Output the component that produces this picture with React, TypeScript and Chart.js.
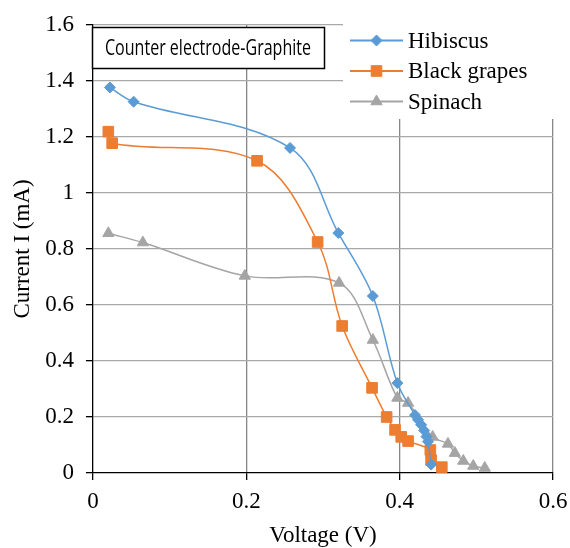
import React, { useEffect, useRef } from "react";
import { Chart, registerables } from "chart.js";

Chart.register(...registerables);

// ---- data ----
const seriesNames = ["Hibiscus", "Black grapes", "Spinach"];
const seriesColors = ["#5B9BD5", "#ED7D31", "#A5A5A5"];

const hibiscusV = [0.022, 0.053, 0.257, 0.32, 0.365, 0.397, 0.42, 0.424, 0.428, 0.432, 0.435, 0.437, 0.441];
const hibiscusI = [1.377, 1.326, 1.161, 0.857, 0.632, 0.321, 0.207, 0.19, 0.172, 0.152, 0.13, 0.112, 0.03];

const grapesV = [0.02, 0.025, 0.214, 0.293, 0.325, 0.364, 0.383, 0.394, 0.402, 0.411, 0.44, 0.441, 0.455];
const grapesI = [1.219, 1.178, 1.115, 0.825, 0.525, 0.304, 0.2, 0.154, 0.129, 0.114, 0.082, 0.046, 0.021];

const spinachV = [0.02, 0.065, 0.198, 0.321, 0.365, 0.397, 0.411, 0.443, 0.463, 0.472, 0.483, 0.496, 0.511];
const spinachI = [0.856, 0.823, 0.704, 0.679, 0.475, 0.268, 0.25, 0.129, 0.104, 0.071, 0.043, 0.025, 0.018];

const xTickValues = [0, 0.2, 0.4, 0.6];
const yTickValues = [0, 0.2, 0.4, 0.6, 0.8, 1, 1.2, 1.4, 1.6];

const xTitle = "Voltage (V)";
const yTitle = "Current I (mA)";
const annotationText = "Counter electrode-Graphite";

const SERIF = '"Liberation Serif", "Times New Roman", serif';

function toPoints(xs: number[], ys: number[]) {
  return xs.map((x, i) => ({ x, y: ys[i] }));
}

const pointStyles = ["rectRot", "rect", "triangle"];
const pointRadii = [5.5, 7.5, 6.5];

function drawMarker(ctx: CanvasRenderingContext2D, style: string, x: number, y: number, r: number, color: string) {
  ctx.beginPath();
  if (style === "rectRot") {
    ctx.moveTo(x, y - r);
    ctx.lineTo(x + r, y);
    ctx.lineTo(x, y + r);
    ctx.lineTo(x - r, y);
  } else if (style === "rect") {
    const s = Math.SQRT1_2 * r;
    ctx.rect(x - s, y - s, 2 * s, 2 * s);
  } else {
    const h = (2 * Math.PI) / 3;
    for (let k = 0; k < 3; k++) {
      const a = k * h;
      const px = x + Math.sin(a) * r;
      const py = y - Math.cos(a) * r;
      if (k === 0) ctx.moveTo(px, py);
      else ctx.lineTo(px, py);
    }
  }
  ctx.closePath();
  ctx.fillStyle = color;
  ctx.fill();
  ctx.strokeStyle = color;
  ctx.lineWidth = 1;
  ctx.stroke();
}

const overlayPlugin = {
  id: "overlay",
  afterDraw(chart: any) {
    const ctx: CanvasRenderingContext2D = chart.ctx;
    const area = chart.chartArea;
    ctx.save();

    // annotation box
    const bx = area.left - 1;
    const by = area.top + 2;
    const bw = 233;
    const bh = 42;
    ctx.fillStyle = "#ffffff";
    ctx.fillRect(bx, by, bw, bh);
    ctx.strokeStyle = "#000000";
    ctx.lineWidth = 1.5;
    ctx.strokeRect(bx + 0.5, by + 0.5, bw - 1, bh - 1);
    ctx.font = '21px "Open Sans", "Noto Sans", sans-serif';
    ctx.fillStyle = "#000000";
    ctx.textBaseline = "middle";
    ctx.textAlign = "left";
    const tw = ctx.measureText(annotationText).width;
    const target = 206;
    ctx.save();
    ctx.translate(bx + 13, by + bh / 2 + 1);
    ctx.scale(target / tw, 1);
    ctx.fillText(annotationText, 0, 0);
    ctx.restore();

    // legend
    const lx = area.left + 250;
    const ly = 20;
    ctx.fillStyle = "#ffffff";
    ctx.fillRect(lx, ly, chart.width - lx, area.top + 94 - ly);
    ctx.font = "23px " + SERIF;
    ctx.textBaseline = "middle";
    chart.data.datasets.forEach((ds: any, i: number) => {
      const y = 40.5 + i * 30.5;
      const x0 = lx + 7;
      const x1 = lx + 60;
      ctx.strokeStyle = ds.borderColor;
      ctx.lineWidth = 2;
      ctx.beginPath();
      ctx.moveTo(x0, y);
      ctx.lineTo(x1, y);
      ctx.stroke();
      drawMarker(ctx, ds.pointStyle, (x0 + x1) / 2, y, ds.pointRadius, ds.backgroundColor);
      ctx.fillStyle = "#000000";
      ctx.fillText(ds.label, x1 + 5, y + 1);
    });

    ctx.restore();
  },
};

export default function App() {
  const canvasRef = useRef<HTMLCanvasElement | null>(null);

  useEffect(() => {
    const canvas = canvasRef.current;
    if (!canvas) return;
    const sets = [
      toPoints(hibiscusV, hibiscusI),
      toPoints(grapesV, grapesI),
      toPoints(spinachV, spinachI),
    ];
    const chart = new Chart(canvas, {
      type: "line",
      data: {
        datasets: sets.map((pts, i) => ({
          label: seriesNames[i],
          data: pts,
          borderColor: seriesColors[i],
          backgroundColor: seriesColors[i],
          pointBackgroundColor: seriesColors[i],
          pointBorderColor: seriesColors[i],
          pointBorderWidth: 1,
          pointStyle: pointStyles[i],
          pointRadius: pointRadii[i],
          borderWidth: 1.5,
          tension: 0.35,
          fill: false,
        })),
      },
      options: {
        animation: false,
        responsive: false,
        devicePixelRatio: 1,
        layout: { padding: { left: 0, right: 17, top: 25, bottom: 0 } },
        plugins: {
          legend: { display: false },
          tooltip: { enabled: false },
        },
        scales: {
          x: {
            type: "linear",
            min: 0,
            max: 0.6,
            afterBuildTicks: (s: any) => {
              s.ticks = xTickValues.map((v) => ({ value: v }));
            },
            afterFit: (s: any) => {
              s.height = 75;
              s.paddingLeft = 0;
              s.paddingRight = 0;
            },
            ticks: {
              color: "#000000",
              font: { family: SERIF, size: 23 },
              padding: 8,
              maxRotation: 0,
              autoSkip: false,
              callback: (v: any) => String(v),
            },
            grid: {
              color: (c: any) => (c.tick && c.tick.value === 0 ? "rgba(0,0,0,0)" : "#878787"),
              tickColor: "#000000",
              tickLength: 7,
              lineWidth: 1.3,
            },
            border: { display: true, color: "#000000", width: 1.3 },
            title: {
              display: true,
              text: xTitle,
              color: "#000000",
              font: { family: SERIF, size: 23 },
              padding: { top: 0, bottom: -2 },
            },
          },
          y: {
            type: "linear",
            min: 0,
            max: 1.6,
            afterBuildTicks: (s: any) => {
              s.ticks = yTickValues.map((v) => ({ value: v }));
            },
            afterFit: (s: any) => {
              s.width = 93;
              s.paddingTop = 0;
              s.paddingBottom = 0;
            },
            ticks: {
              color: "#000000",
              font: { family: SERIF, size: 23 },
              padding: 12,
              autoSkip: false,
              callback: (v: any) => String(v),
            },
            grid: {
              color: (c: any) => (c.tick && c.tick.value === 0 ? "rgba(0,0,0,0)" : "#a9a9a9"),
              tickColor: "#000000",
              tickLength: 7,
              lineWidth: 1.3,
            },
            border: { display: true, color: "#000000", width: 1.3 },
            title: {
              display: true,
              text: yTitle,
              color: "#000000",
              font: { family: SERIF, size: 23 },
              padding: { top: 9, bottom: 0 },
            },
          },
        },
      },
      plugins: [overlayPlugin],
    } as any);
    return () => chart.destroy();
  }, []);

  return (
    <canvas
      ref={canvasRef}
      width={570}
      height={548}
      style={{ position: "absolute", left: 0, top: 0, display: "block", width: 570, height: 548 }}
    />
  );
}
